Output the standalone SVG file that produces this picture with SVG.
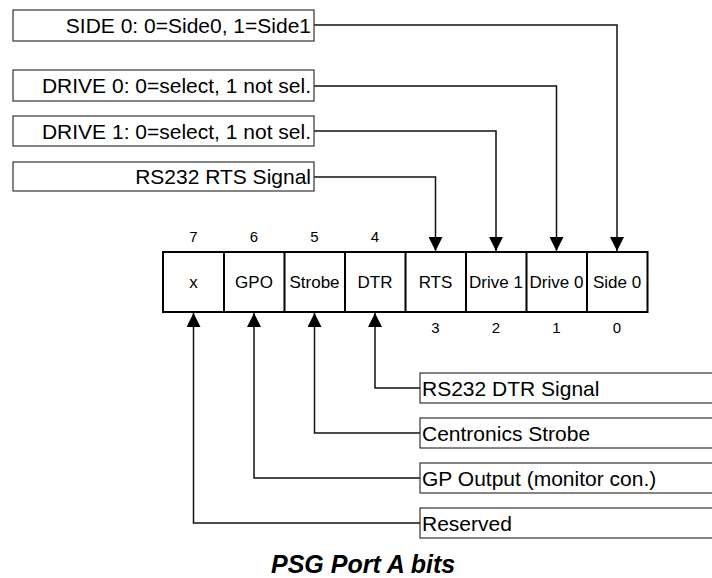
<svg xmlns="http://www.w3.org/2000/svg" width="712" height="578" viewBox="0 0 712 578">
<style>
text{font-family:"Liberation Sans",Arial,sans-serif;fill:#000}
.lbl{font-size:21px}
.cell{font-size:17px;text-anchor:middle}
.num{font-size:15px;text-anchor:middle}
.box{fill:#fff;stroke:#333;stroke-width:1.2}
.reg{fill:#fff;stroke:#000;stroke-width:2}
.con{fill:none;stroke:#111;stroke-width:1.5}
.title{font-size:25px;font-weight:bold;font-style:italic}
</style>
<defs>
<marker id="ah" viewBox="0 0 14 14" refX="14" refY="7" markerWidth="14" markerHeight="14" markerUnits="userSpaceOnUse" orient="auto">
<path d="M0,0 L14,7 L0,14 Z" fill="#000"/>
</marker>
</defs>
<g id="connectors">
<path class="con" d="M314,25 H617 V251" marker-end="url(#ah)"/>
<path class="con" d="M314,86 H556.5 V251" marker-end="url(#ah)"/>
<path class="con" d="M314,131 H496 V251" marker-end="url(#ah)"/>
<path class="con" d="M314,177 H435.5 V251" marker-end="url(#ah)"/>
<path class="con" d="M420,388 H375 V313" marker-end="url(#ah)"/>
<path class="con" d="M420,433 H314.5 V313" marker-end="url(#ah)"/>
<path class="con" d="M420,478 H254 V313" marker-end="url(#ah)"/>
<path class="con" d="M420,523 H193.5 V313" marker-end="url(#ah)"/>
</g>
<g id="side0-desc"><rect class="box" x="13" y="10" width="301" height="31"/><text class="lbl" x="311" y="33" text-anchor="end">SIDE 0: 0=Side0, 1=Side1</text></g>
<g id="drive0-desc"><rect class="box" x="13" y="70" width="301" height="31"/><text class="lbl" x="311" y="93" text-anchor="end">DRIVE 0: 0=select, 1 not sel.</text></g>
<g id="drive1-desc"><rect class="box" x="13" y="116" width="301" height="30"/><text class="lbl" x="311" y="138.5" text-anchor="end">DRIVE 1: 0=select, 1 not sel.</text></g>
<g id="rts-desc"><rect class="box" x="13" y="162" width="301" height="29"/><text class="lbl" x="311" y="184" text-anchor="end">RS232 RTS Signal</text></g>
<g id="register">
<rect class="reg" x="163" y="252" width="484.5" height="60"/>
<path d="M224,252 V312 M284.5,252 V312 M345,252 V312 M405.5,252 V312 M466,252 V312 M526.5,252 V312 M587,252 V312" stroke="#000" stroke-width="2"/>
<g id="bit7"><text class="num" x="193.5" y="242">7</text><text class="cell" x="193.5" y="288">x</text></g>
<g id="bit6"><text class="num" x="254" y="242">6</text><text class="cell" x="254" y="288">GPO</text></g>
<g id="bit5"><text class="num" x="314.5" y="242">5</text><text class="cell" x="314.5" y="288">Strobe</text></g>
<g id="bit4"><text class="num" x="375" y="242">4</text><text class="cell" x="375" y="288">DTR</text></g>
<g id="bit3"><text class="cell" x="435.5" y="288">RTS</text><text class="num" x="435.5" y="333">3</text></g>
<g id="bit2"><text class="cell" x="496" y="288">Drive 1</text><text class="num" x="496" y="333">2</text></g>
<g id="bit1"><text class="cell" x="556.5" y="288">Drive 0</text><text class="num" x="556.5" y="333">1</text></g>
<g id="bit0"><text class="cell" x="617" y="288">Side 0</text><text class="num" x="617" y="333">0</text></g>
</g>
<g id="dtr-desc"><rect class="box" x="420" y="373" width="300" height="30"/><text class="lbl" x="422" y="395.5">RS232 DTR Signal</text></g>
<g id="strobe-desc"><rect class="box" x="420" y="418" width="300" height="30"/><text class="lbl" x="422" y="440.5">Centronics Strobe</text></g>
<g id="gpo-desc"><rect class="box" x="420" y="463" width="300" height="30"/><text class="lbl" x="422" y="485.5">GP Output (monitor con.)</text></g>
<g id="reserved-desc"><rect class="box" x="420" y="508" width="300" height="30"/><text class="lbl" x="422" y="530.5">Reserved</text></g>
<text class="title" x="271" y="573">PSG Port A bits</text>
</svg>
